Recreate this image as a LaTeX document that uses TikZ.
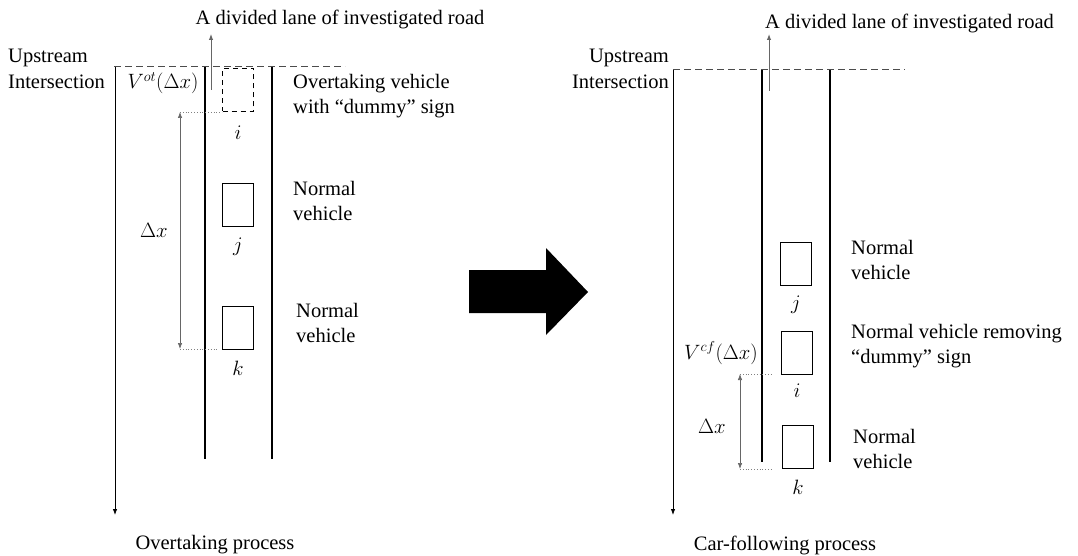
\documentclass[tikz,border=0pt]{standalone}
\usepackage{fontspec}
\setmainfont{Liberation Serif}
\usetikzlibrary{arrows.meta}
\begin{document}
\begin{tikzpicture}[x=1pt,y=-1pt,
  lbl/.style={font=\fontsize{20.5}{25.5}\selectfont, inner sep=0pt, align=left},
  car/.style={draw, line width=1.3pt, minimum width=31pt, minimum height=43pt, inner sep=0pt},
  dcar/.style={car, dashed, dash pattern=on 5pt off 4pt},
  lane/.style={line width=2.6pt},
  axis/.style={line width=0.8pt, -{Latex[length=6pt,width=4.5pt]}},
  gap/.style={line width=0.7pt, gray!80!black, {Latex[length=6pt,width=4.5pt]}-{Latex[length=6pt,width=4.5pt]}},
  dots/.style={gray, line width=0.8pt, dotted},
  upa/.style={gray!80!black, line width=1pt, -{Latex[length=6pt,width=4.5pt]}},
  stop/.style={gray!60!black, line width=1pt, dash pattern=on 7pt off 4pt},
  mth/.style={font=\fontsize{22}{26}\selectfont, inner sep=0pt}
]
\useasboundingbox (0,0) rectangle (1078,556);

% ===== Left panel: overtaking =====
\coordinate (Ltl) at (114,67);
\coordinate (Ltr) at (345,67);
\draw[stop] (Ltl) -- (Ltr);
\coordinate (Lax) at (115,67);
\coordinate (Laxe) at (115,515);
\draw[axis] (Lax) -- (Laxe);
\coordinate (L1t) at (205,67); \coordinate (L1b) at (205,459);
\coordinate (L2t) at (272,67); \coordinate (L2b) at (272,459);
\draw[lane] (L1t) -- (L1b);
\draw[lane] (L2t) -- (L2b);
\coordinate (Lus) at (211,90); \coordinate (Lue) at (211,34);
\draw[upa] (Lus) -- (Lue);
\node[lbl, anchor=center] (Ltitle) at (340,19) {A divided lane of investigated road};
\node[lbl, anchor=west] (Lup) at (8,69) {Upstream\\Intersection};

\node[dcar] (Li) at (238,90) {};
\node[car] (Lj) at (238,205) {};
\node[car] (Lk) at (238,328) {};
\node[mth] (Lil) at (238,133) {$i$};
\node[mth] (Ljl) at (238,247) {$j$};
\node[mth] (Lkl) at (238,368) {$k$};
\node[mth, anchor=center] (LV) at (163,83) {$V^{ot}(\Delta x)$};
\node[mth] (Ldx) at (154,230) {$\Delta x$};

\coordinate (Lg1) at (180,112); \coordinate (Lg1e) at (222,112);
\coordinate (Lg2) at (180,349); \coordinate (Lg2e) at (218,349);
\draw[dots] (Lg1) -- (Lg1e);
\draw[dots] (Lg2) -- (Lg2e);
\draw[gap] (Lg1) -- (Lg2);

\node[lbl, anchor=west] (Lit) at (293,96) {Overtaking vehicle\\with ``dummy'' sign};
\node[lbl, anchor=west] (Ljt) at (293,201) {Normal\\vehicle};
\node[lbl, anchor=west] (Lkt) at (296,323) {Normal\\vehicle};
\node[lbl, anchor=center] (Lcap) at (215,545) {Overtaking process};

% ===== Block arrow =====
\fill (469,270) -- (546,270) -- (546,248) -- (588,292) -- (546,335) -- (546,313) -- (469,313) -- cycle;

% ===== Right panel: car-following =====
\coordinate (Rtl) at (673,70);
\coordinate (Rtr) at (905,70);
\draw[stop] (Rtl) -- (Rtr);
\coordinate (Rax) at (673,70);
\coordinate (Raxe) at (673,515);
\draw[axis] (Rax) -- (Raxe);
\coordinate (R1t) at (762,70); \coordinate (R1b) at (762,462);
\coordinate (R2t) at (830,70); \coordinate (R2b) at (830,462);
\draw[lane] (R1t) -- (R1b);
\draw[lane] (R2t) -- (R2b);
\coordinate (Rus) at (769,91); \coordinate (Rue) at (769,34);
\draw[upa] (Rus) -- (Rue);
\node[lbl, anchor=west] (Rtitle) at (765,23) {A divided lane of investigated road};
\node[lbl, anchor=east, align=right] (Rup) at (669,69) {Upstream\\Intersection};

\node[car] (Rj) at (796,264) {};
\node[car] (Ri) at (797,353) {};
\node[car] (Rk) at (798,447) {};
\node[mth] (Rjl) at (796,305) {$j$};
\node[mth] (Ril) at (797,391) {$i$};
\node[mth] (Rkl) at (798,487) {$k$};
\node[mth, anchor=east] (RV) at (758,353) {$V^{cf}(\Delta x)$};
\node[mth] (Rdx) at (712,426) {$\Delta x$};

\coordinate (Rg1) at (740,374); \coordinate (Rg1e) at (773,374);
\coordinate (Rg2) at (740,469); \coordinate (Rg2e) at (773,469);
\draw[dots] (Rg1) -- (Rg1e);
\draw[dots] (Rg2) -- (Rg2e);
\draw[gap] (Rg1) -- (Rg2);

\node[lbl, anchor=west] (Rjt) at (851,260) {Normal\\vehicle};
\node[lbl, anchor=west] (Rit) at (851,346) {Normal vehicle removing\\``dummy'' sign};
\node[lbl, anchor=west] (Rkt) at (853,449) {Normal\\vehicle};
\node[lbl, anchor=center] (Rcap) at (785,545) {Car-following process};
\end{tikzpicture}
\end{document}
